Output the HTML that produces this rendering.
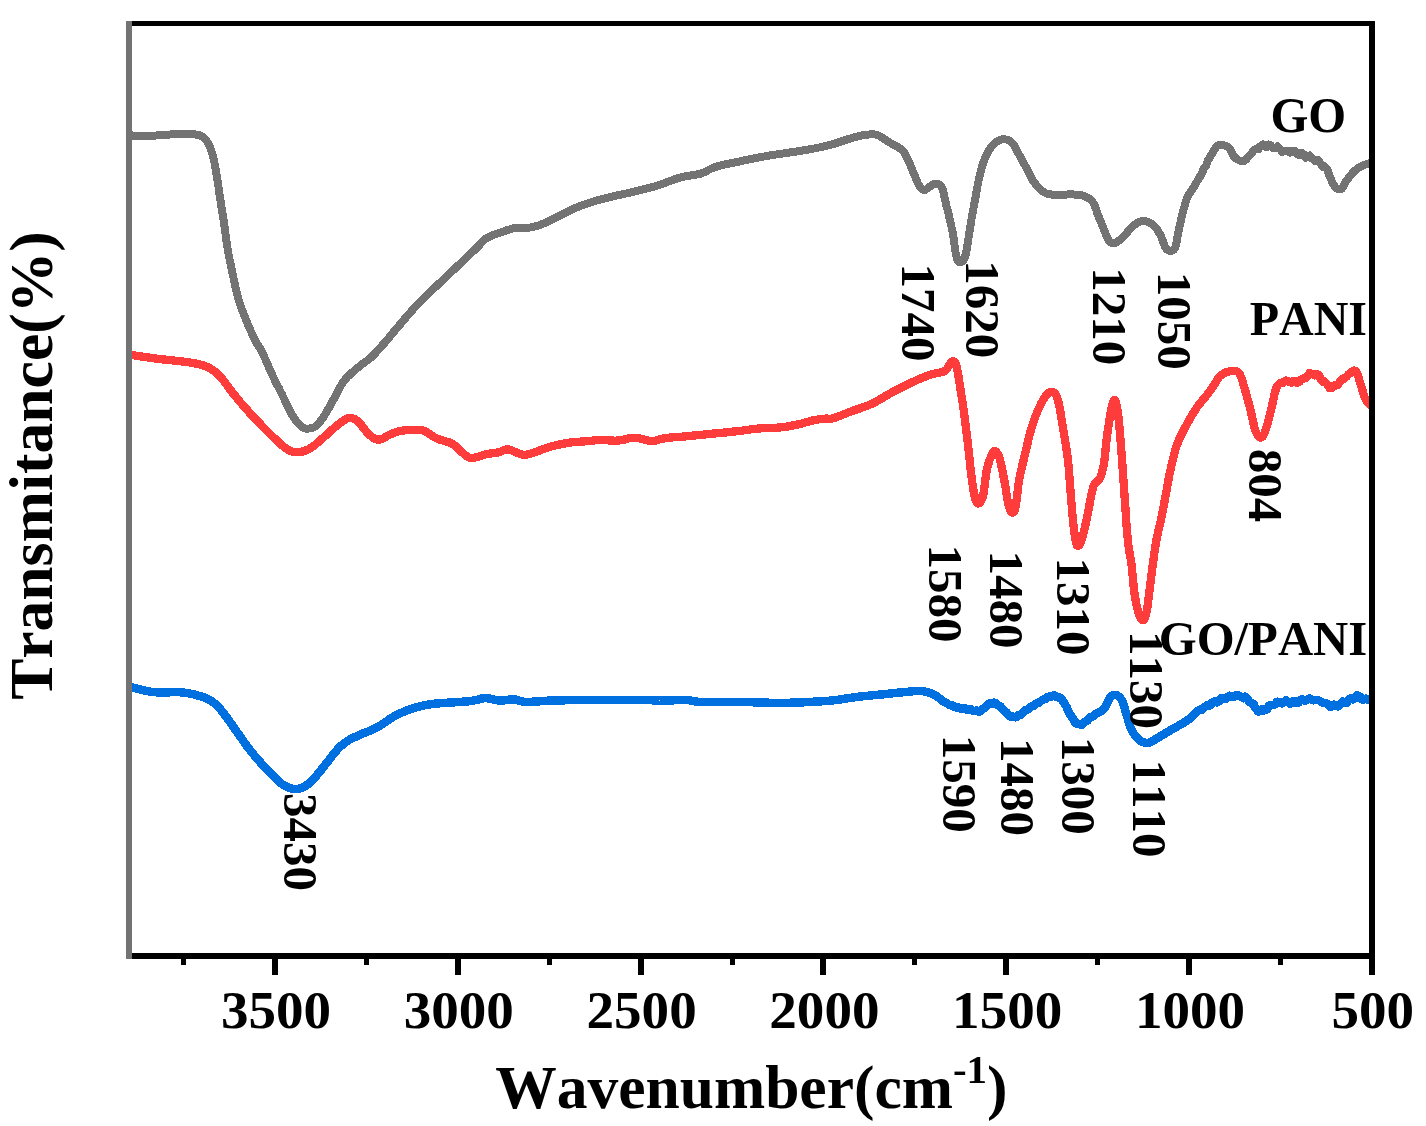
<!DOCTYPE html><html><head><meta charset="utf-8"><title>FTIR</title><style>html,body{margin:0;padding:0;background:#fff}svg{display:block}text{font-family:"Liberation Serif",serif;font-weight:bold;fill:#000;font-kerning:none}</style></head><body>
<svg width="1426" height="1126" viewBox="0 0 1426 1126">
<rect width="1426" height="1126" fill="#fff"/>
<g fill="none" stroke-width="8" stroke-linejoin="round" stroke-linecap="butt" shape-rendering="crispEdges">
<polyline id="blue" stroke-width="8.5" stroke="#0070E0" points="127.0,685.8 129.0,686.4 131.8,687.2 135.1,688.1 138.6,689.1 142.0,690.0 145.0,690.7 147.6,691.2 149.9,691.6 152.2,691.9 154.6,692.1 157.1,692.3 160.0,692.4 163.3,692.4 167.0,692.4 170.9,692.2 174.8,692.1 178.7,692.2 182.4,692.4 186.0,692.9 189.5,693.5 193.0,694.2 196.4,695.1 199.5,696.0 202.4,696.9 204.9,697.8 207.2,698.8 209.3,699.9 211.2,701.0 213.1,702.3 214.9,703.7 216.7,705.2 218.3,706.9 219.8,708.6 221.4,710.5 223.0,712.6 224.8,714.9 226.7,717.5 228.8,720.3 230.9,723.3 233.0,726.3 235.2,729.4 237.3,732.4 239.4,735.3 241.4,738.2 243.4,741.1 245.4,744.0 247.6,746.9 249.8,749.8 252.2,752.7 254.6,755.7 257.1,758.7 259.7,761.6 262.3,764.5 264.8,767.3 267.4,770.1 270.0,772.8 272.6,775.5 275.2,778.1 277.6,780.4 279.8,782.3 281.8,783.8 283.6,785.1 285.2,786.0 286.8,786.8 288.2,787.4 289.7,788.0 291.1,788.5 292.3,788.9 293.4,789.1 294.6,789.2 295.8,789.2 297.2,789.0 298.7,788.7 300.3,788.2 302.0,787.6 303.8,786.8 305.5,785.9 307.2,784.8 308.9,783.5 310.5,782.0 312.2,780.3 313.9,778.5 315.5,776.7 317.2,774.8 318.9,772.9 320.5,770.8 322.2,768.7 323.9,766.6 325.5,764.4 327.2,762.3 328.9,760.2 330.5,758.0 332.2,755.8 333.9,753.7 335.5,751.7 337.2,749.8 338.8,748.1 340.4,746.5 342.0,745.1 343.7,743.7 345.4,742.4 347.2,741.1 349.1,739.9 351.0,738.9 352.9,737.9 355.0,737.0 357.2,736.0 359.6,734.9 362.2,733.8 365.1,732.6 368.0,731.5 371.1,730.2 374.1,728.9 377.1,727.4 380.0,725.7 382.9,723.8 385.9,721.8 388.8,719.7 391.7,717.8 394.6,716.1 397.5,714.6 400.4,713.2 403.4,711.9 406.3,710.7 409.2,709.6 412.1,708.6 414.9,707.7 417.7,706.9 420.5,706.2 423.3,705.5 426.3,704.9 429.5,704.4 433.0,703.9 436.8,703.5 440.7,703.2 444.7,702.9 448.5,702.7 452.0,702.4 455.3,702.2 458.6,701.9 461.8,701.8 464.7,701.6 467.3,701.4 469.5,701.2 471.2,701.0 472.4,700.8 473.2,700.6 474.0,700.5 474.8,700.2 476.0,700.0 477.4,699.7 478.9,699.3 480.6,698.8 482.3,698.4 484.1,698.2 486.0,698.1 488.1,698.3 490.3,698.7 492.6,699.3 495.0,699.9 497.4,700.3 499.7,700.6 502.0,700.6 504.3,700.3 506.6,700.0 508.9,699.7 511.2,699.4 513.4,699.4 515.4,699.6 517.2,700.1 518.9,700.7 520.9,701.2 523.1,701.7 525.9,701.9 529.2,701.9 532.8,701.7 536.8,701.5 541.2,701.1 545.9,700.8 550.9,700.6 556.3,700.4 562.0,700.3 568.0,700.2 574.4,700.1 581.2,700.0 588.3,699.9 596.2,699.9 605.0,699.8 614.1,699.8 623.0,699.8 631.3,699.9 638.3,699.9 643.9,700.0 648.5,700.1 652.5,700.3 656.0,700.4 659.5,700.6 663.2,700.6 667.2,700.5 671.2,700.4 675.1,700.2 678.8,700.0 682.4,699.9 685.7,699.9 688.4,700.1 690.4,700.4 692.3,700.9 694.3,701.3 697.0,701.7 700.7,701.9 705.6,702.0 711.5,702.0 718.0,702.0 724.8,701.9 731.6,701.9 738.1,701.9 744.5,702.0 751.0,702.2 757.6,702.4 764.0,702.6 770.0,702.8 775.5,702.9 780.3,702.9 784.5,702.9 788.4,702.8 792.1,702.7 796.1,702.6 800.5,702.4 805.4,702.2 810.8,701.9 816.2,701.6 821.7,701.3 827.1,700.9 832.0,700.5 836.5,700.0 840.8,699.4 844.9,698.7 848.9,698.1 852.9,697.5 857.0,696.9 861.2,696.4 865.3,696.0 869.5,695.6 873.6,695.2 877.7,694.8 881.9,694.4 886.2,694.0 890.6,693.5 895.0,693.0 899.3,692.6 903.3,692.2 906.9,691.9 910.0,691.6 912.7,691.3 915.2,691.1 917.5,691.0 919.7,690.9 921.9,691.1 924.1,691.4 926.2,691.8 928.3,692.4 930.3,693.1 932.3,693.9 934.3,694.9 936.4,696.1 938.5,697.6 940.5,699.2 942.6,700.9 944.7,702.3 946.8,703.0 948.9,704.8 951.1,705.3 953.2,705.7 955.3,707.3 957.4,707.3 959.3,707.8 961.1,709.0 962.8,708.6 964.5,708.1 966.1,709.2 967.7,709.8 969.3,709.0 971.0,709.2 972.7,710.8 974.4,711.2 976.1,710.5 977.7,711.0 979.3,711.8 980.9,710.6 982.4,708.7 983.9,708.3 985.3,707.5 986.7,705.7 988.0,704.7 989.2,703.6 990.2,704.1 991.2,703.6 992.2,703.6 993.2,702.7 994.3,702.7 995.5,703.1 996.7,704.7 997.9,705.1 999.2,706.0 1000.4,706.2 1001.7,707.9 1002.9,709.5 1004.2,710.7 1005.4,711.8 1006.7,712.6 1007.9,714.7 1009.2,715.6 1010.4,716.5 1011.6,716.1 1012.8,716.5 1014.0,717.0 1015.3,717.3 1016.7,717.0 1018.2,715.3 1019.8,714.8 1021.4,714.6 1023.1,712.6 1024.9,710.5 1026.7,710.0 1028.6,708.7 1030.7,706.8 1032.8,706.3 1034.9,704.6 1037.1,702.9 1039.2,702.6 1041.3,700.8 1043.5,699.4 1045.6,699.0 1047.7,697.1 1049.8,696.5 1051.7,696.5 1053.5,695.5 1055.3,695.7 1057.0,697.2 1058.7,697.5 1060.2,697.5 1061.7,699.3 1063.1,701.6 1064.4,703.2 1065.6,705.4 1066.8,707.2 1068.0,710.5 1069.1,712.6 1070.2,714.9 1071.3,715.8 1072.3,717.8 1073.3,719.1 1074.4,721.5 1075.4,722.6 1076.4,723.6 1077.4,723.6 1078.4,723.8 1079.4,724.3 1080.5,724.6 1081.6,724.9 1082.8,723.8 1084.0,722.5 1085.3,721.6 1086.6,720.8 1087.8,720.3 1089.1,718.3 1090.3,717.4 1091.6,716.6 1092.8,716.4 1094.1,715.6 1095.3,714.2 1096.6,713.5 1097.9,712.8 1099.1,712.2 1100.4,711.5 1101.7,710.7 1102.9,709.8 1104.1,708.6 1105.2,707.0 1106.3,705.0 1107.4,702.8 1108.4,700.7 1109.4,698.8 1110.3,697.4 1111.2,696.4 1112.0,695.6 1112.8,695.1 1113.6,694.9 1114.4,694.8 1115.3,694.9 1116.3,695.2 1117.4,695.6 1118.4,696.3 1119.5,697.2 1120.6,698.4 1121.6,699.9 1122.5,701.8 1123.4,704.2 1124.2,706.8 1125.0,709.5 1125.8,712.3 1126.6,714.9 1127.4,717.4 1128.2,720.1 1128.9,722.7 1129.8,725.2 1130.6,727.6 1131.6,729.8 1132.7,731.8 1133.8,733.8 1135.1,735.5 1136.3,737.2 1137.7,738.6 1139.0,739.8 1140.4,740.8 1141.8,741.6 1143.3,742.2 1144.8,742.6 1146.3,742.8 1147.8,742.8 1149.2,742.6 1150.6,742.1 1151.9,741.4 1153.3,740.5 1154.8,739.6 1156.5,738.6 1158.3,737.6 1160.1,736.5 1162.1,735.3 1164.2,734.0 1166.5,732.6 1169.0,731.1 1171.9,729.4 1175.1,727.6 1178.5,725.7 1182.0,723.7 1185.2,721.7 1188.0,719.9 1190.3,718.1 1192.3,716.4 1194.2,714.6 1195.9,713.0 1197.7,710.8 1199.8,709.6 1202.1,709.8 1204.7,707.0 1207.3,705.3 1209.9,705.4 1212.4,702.5 1214.8,701.1 1217.0,702.5 1219.2,701.3 1221.2,698.0 1223.2,698.1 1225.3,699.2 1227.3,697.4 1229.4,695.7 1231.5,696.5 1233.7,697.0 1235.7,695.5 1237.8,695.1 1239.7,695.8 1241.5,697.0 1243.3,698.2 1245.1,696.7 1246.7,698.3 1248.3,699.9 1249.7,702.4 1251.0,702.5 1252.1,704.0 1253.1,703.9 1254.0,704.8 1255.0,707.2 1256.0,708.4 1257.0,709.7 1257.9,711.6 1258.9,711.5 1259.9,710.6 1260.9,710.9 1262.2,709.5 1263.6,710.5 1265.3,709.9 1267.0,709.6 1268.7,705.9 1270.5,705.0 1272.2,705.0 1273.8,705.0 1275.4,704.2 1277.0,701.7 1278.7,702.0 1280.4,701.8 1282.2,703.3 1284.1,701.7 1286.2,700.2 1288.3,702.5 1290.4,703.8 1292.6,701.5 1294.7,701.0 1296.8,703.1 1298.8,702.3 1300.9,699.5 1303.0,699.6 1305.0,700.7 1307.1,699.5 1309.2,698.4 1311.3,699.3 1313.3,700.3 1315.4,700.1 1317.5,700.0 1319.6,700.7 1321.7,702.3 1323.8,703.2 1325.8,703.1 1327.9,704.3 1330.0,706.6 1332.1,706.5 1334.2,704.6 1336.3,705.3 1338.3,706.3 1340.4,703.8 1342.5,701.6 1344.6,702.9 1346.7,702.8 1349.0,699.3 1351.2,698.0 1353.3,699.4 1355.3,698.1 1357.1,695.5 1358.6,696.3 1360.0,696.6 1361.2,698.8 1362.3,699.5 1363.4,698.9 1364.6,699.3 1365.9,698.7 1367.3,699.6 1368.8,699.7 1370.1,699.7 1371.2,699.8 1372.0,699.8"/>
<polyline id="red" stroke-width="8.3" stroke="#FF3C3C" points="127.0,354.3 130.3,354.8 134.8,355.5 140.2,356.3 146.0,357.1 151.9,358.0 157.4,358.7 162.9,359.4 168.7,360.0 174.5,360.6 180.2,361.2 185.4,361.8 190.0,362.5 193.8,363.2 197.1,363.8 200.0,364.4 202.5,365.1 205.0,366.0 207.4,367.0 209.8,368.2 211.9,369.5 214.0,370.9 215.9,372.4 217.9,374.2 219.9,376.2 222.0,378.5 224.0,381.1 226.1,383.9 228.2,386.8 230.2,389.7 232.3,392.4 234.3,395.0 236.4,397.4 238.4,399.9 240.4,402.4 242.6,404.8 244.8,407.4 247.2,410.0 249.6,412.8 252.1,415.5 254.7,418.2 257.3,421.0 259.8,423.6 262.3,426.2 264.9,428.8 267.5,431.4 270.0,434.0 272.4,436.4 274.8,438.6 277.1,440.7 279.2,442.8 281.4,444.7 283.4,446.5 285.4,448.0 287.3,449.3 289.1,450.3 290.7,451.1 292.2,451.7 293.8,452.1 295.4,452.3 297.2,452.3 299.1,452.1 301.2,451.8 303.3,451.3 305.4,450.5 307.6,449.7 309.7,448.6 311.8,447.3 313.9,445.8 315.9,444.1 318.0,442.3 320.1,440.4 322.2,438.6 324.3,436.8 326.5,434.8 328.6,432.8 330.7,430.9 332.8,429.1 334.7,427.4 336.6,425.9 338.4,424.4 340.1,423.1 341.7,421.9 343.3,420.8 344.7,419.9 345.9,419.2 347.0,418.6 348.0,418.2 348.9,417.9 349.8,417.8 350.9,417.9 352.1,418.1 353.3,418.6 354.5,419.1 355.8,419.9 357.1,420.8 358.4,421.9 359.8,423.3 361.3,425.0 362.7,427.0 364.2,428.9 365.7,430.7 367.1,432.3 368.4,433.7 369.7,434.9 371.0,436.1 372.2,437.1 373.4,437.9 374.6,438.6 375.7,439.1 376.7,439.4 377.7,439.6 378.7,439.7 379.7,439.5 380.9,439.3 382.2,438.8 383.6,438.2 385.0,437.3 386.5,436.4 388.0,435.6 389.6,434.8 391.1,434.1 392.7,433.4 394.2,432.8 395.8,432.1 397.6,431.6 399.6,431.1 401.9,430.7 404.4,430.4 407.1,430.1 409.8,430.0 412.3,429.8 414.6,429.8 416.5,429.8 418.2,429.8 419.7,429.9 421.2,430.1 422.8,430.5 424.5,431.1 426.4,432.0 428.4,433.2 430.4,434.6 432.6,436.1 434.7,437.4 437.0,438.6 439.4,439.5 442.0,440.3 444.7,441.0 447.3,441.8 449.8,442.6 452.0,443.6 454.0,444.9 455.8,446.3 457.5,447.9 459.0,449.5 460.5,451.0 462.0,452.3 463.4,453.5 464.7,454.6 466.0,455.6 467.2,456.5 468.3,457.3 469.5,457.8 470.6,458.1 471.6,458.2 472.6,458.1 473.6,457.9 474.7,457.6 476.0,457.3 477.4,456.9 479.0,456.4 480.6,455.9 482.4,455.3 484.1,454.8 486.0,454.3 488.0,453.9 490.1,453.6 492.3,453.3 494.5,453.0 496.6,452.7 498.5,452.3 500.2,451.8 501.7,451.2 503.1,450.5 504.4,449.9 505.8,449.5 507.2,449.3 508.7,449.5 510.2,449.9 511.7,450.5 513.2,451.1 514.6,451.8 516.0,452.3 517.3,452.8 518.5,453.3 519.6,453.9 520.8,454.3 522.0,454.6 523.4,454.8 524.9,454.8 526.4,454.6 527.9,454.3 529.6,453.9 531.4,453.4 533.4,452.8 535.6,452.1 537.8,451.2 540.3,450.2 542.8,449.2 545.6,448.2 548.4,447.3 551.4,446.5 554.7,445.6 558.1,444.8 561.6,444.1 565.0,443.4 568.4,442.8 571.8,442.4 575.3,442.0 578.8,441.8 582.2,441.5 585.4,441.3 588.3,441.1 590.8,440.8 593.1,440.6 595.2,440.3 597.1,440.1 598.9,439.9 600.8,439.8 602.6,439.8 604.3,440.0 606.0,440.1 607.6,440.3 609.2,440.5 610.8,440.6 612.5,440.6 614.1,440.7 615.7,440.7 617.4,440.6 619.1,440.5 620.8,440.3 622.6,440.0 624.5,439.5 626.5,439.0 628.4,438.5 630.3,438.1 632.0,437.8 633.6,437.7 635.0,437.8 636.4,437.9 637.8,438.1 639.2,438.3 640.8,438.6 642.5,439.0 644.3,439.5 646.1,440.1 648.0,440.6 650.0,441.0 652.0,441.1 654.0,440.9 656.1,440.5 658.1,439.9 660.4,439.2 662.9,438.6 665.7,438.1 668.9,437.7 672.5,437.4 676.2,437.1 680.2,436.8 684.2,436.5 688.2,436.1 692.2,435.7 696.3,435.3 700.5,434.9 704.7,434.5 708.9,434.0 713.1,433.6 717.3,433.2 721.6,432.8 725.9,432.4 730.1,431.9 734.2,431.5 738.1,431.1 741.7,430.7 745.0,430.2 748.3,429.8 751.4,429.3 754.7,428.9 758.1,428.6 761.8,428.3 765.6,428.2 769.5,428.0 773.3,427.9 777.0,427.7 780.5,427.4 783.7,427.0 786.8,426.6 789.7,426.1 792.5,425.5 795.3,425.0 798.0,424.4 800.7,423.8 803.3,423.1 805.8,422.3 808.3,421.6 810.7,421.0 813.0,420.4 815.3,420.0 817.6,419.6 819.8,419.2 821.9,419.0 823.8,418.8 825.5,418.6 826.8,418.6 827.6,418.7 828.3,419.0 829.1,419.1 830.2,419.0 832.0,418.6 834.6,417.8 837.7,416.7 841.2,415.3 844.8,413.9 848.5,412.4 852.0,411.1 855.3,409.9 858.7,408.8 862.0,407.6 865.3,406.5 868.7,405.2 872.0,403.7 875.3,402.0 878.6,400.2 882.0,398.2 885.3,396.2 888.6,394.3 891.9,392.4 895.3,390.6 898.7,388.9 902.0,387.2 905.4,385.5 908.7,383.9 911.9,382.4 915.0,381.0 918.0,379.6 921.0,378.3 923.9,377.1 926.7,376.0 929.4,375.0 932.1,374.2 934.9,373.6 937.6,373.0 940.2,372.5 942.4,371.9 944.3,371.2 945.7,370.3 946.7,369.2 947.5,368.1 948.1,367.0 948.7,365.9 949.3,365.0 950.0,364.1 950.7,363.2 951.3,362.3 951.9,361.6 952.5,361.2 953.1,361.2 953.7,361.5 954.3,362.0 955.0,362.7 955.6,363.8 956.2,365.4 956.8,367.5 957.4,370.3 958.1,373.7 958.7,377.6 959.3,381.7 960.0,385.9 960.6,390.0 961.2,394.0 961.8,397.9 962.5,402.0 963.1,406.1 963.7,410.4 964.3,414.9 964.9,419.6 965.5,424.5 966.2,429.5 966.8,434.6 967.4,439.8 968.0,444.8 968.6,449.9 969.1,455.2 969.7,460.4 970.2,465.5 970.8,470.4 971.3,474.8 971.8,478.8 972.3,482.6 972.8,486.1 973.3,489.3 973.8,492.2 974.3,494.8 974.9,497.1 975.4,499.1 976.0,500.9 976.6,502.2 977.3,503.1 978.0,503.5 978.8,503.4 979.6,502.9 980.5,501.9 981.4,500.5 982.2,498.5 983.0,496.0 983.7,492.6 984.3,488.2 984.9,483.4 985.5,478.4 986.1,473.7 986.8,469.8 987.6,466.5 988.5,463.6 989.3,460.9 990.2,458.5 991.1,456.5 991.8,454.8 992.4,453.4 992.9,452.4 993.3,451.6 993.8,451.2 994.2,451.0 994.8,451.1 995.4,451.4 996.1,451.8 996.9,452.6 997.6,453.7 998.4,455.2 999.2,457.3 1000.0,460.1 1000.9,463.6 1001.7,467.5 1002.6,471.7 1003.4,475.9 1004.2,479.8 1004.9,483.7 1005.6,487.8 1006.2,491.8 1006.8,495.7 1007.4,499.3 1008.0,502.3 1008.6,504.9 1009.2,507.1 1009.9,509.0 1010.5,510.5 1011.1,511.6 1011.7,512.2 1012.3,512.5 1013.0,512.5 1013.6,512.0 1014.2,511.1 1014.9,509.5 1015.5,507.2 1016.1,503.9 1016.6,499.7 1017.2,494.9 1017.8,489.8 1018.4,484.6 1019.2,479.8 1020.1,475.2 1021.1,470.5 1022.2,465.9 1023.3,461.3 1024.4,456.7 1025.5,452.3 1026.5,447.9 1027.5,443.6 1028.5,439.4 1029.5,435.2 1030.6,431.2 1031.7,427.4 1032.9,423.7 1034.1,420.1 1035.4,416.6 1036.7,413.3 1037.9,410.2 1039.2,407.4 1040.5,404.8 1041.7,402.3 1043.0,400.1 1044.3,398.1 1045.5,396.3 1046.7,394.9 1047.8,393.7 1048.9,392.8 1050.0,392.1 1051.0,391.7 1052.0,391.7 1052.9,391.9 1053.8,392.4 1054.7,393.0 1055.5,394.0 1056.3,395.4 1057.1,397.3 1057.9,399.9 1058.7,403.3 1059.6,407.4 1060.4,412.1 1061.2,417.1 1062.1,422.3 1062.9,427.4 1063.8,432.5 1064.7,437.9 1065.6,443.4 1066.4,449.0 1067.2,454.5 1067.9,459.8 1068.5,464.9 1068.9,470.0 1069.3,475.0 1069.7,479.9 1070.0,484.8 1070.4,489.8 1070.8,494.9 1071.2,500.1 1071.7,505.4 1072.1,510.5 1072.5,515.3 1072.9,519.7 1073.3,523.8 1073.7,527.6 1074.2,531.2 1074.6,534.4 1075.0,537.3 1075.4,539.7 1075.8,541.7 1076.2,543.2 1076.6,544.4 1077.0,545.3 1077.4,545.7 1077.9,545.9 1078.4,545.7 1079.0,545.3 1079.6,544.4 1080.2,543.2 1080.9,541.7 1081.6,539.7 1082.4,537.2 1083.2,534.1 1084.1,530.6 1085.0,526.9 1085.8,523.2 1086.6,519.7 1087.3,516.3 1088.0,512.9 1088.6,509.4 1089.2,506.1 1089.8,502.8 1090.4,499.8 1091.0,496.9 1091.5,494.2 1092.1,491.5 1092.7,489.1 1093.3,486.8 1094.1,484.8 1095.0,483.2 1096.1,482.0 1097.2,481.1 1098.3,480.1 1099.4,478.9 1100.3,477.3 1101.1,475.3 1101.8,473.1 1102.4,470.7 1103.0,468.1 1103.6,465.3 1104.1,462.3 1104.6,459.0 1105.0,455.4 1105.4,451.7 1105.7,447.8 1106.1,443.8 1106.6,439.8 1107.1,435.7 1107.7,431.3 1108.4,426.9 1109.0,422.6 1109.7,418.5 1110.3,414.9 1110.9,411.5 1111.6,408.1 1112.2,405.1 1112.8,402.5 1113.5,400.7 1114.1,399.9 1114.7,400.1 1115.4,401.2 1116.0,403.0 1116.6,405.6 1117.2,408.7 1117.8,412.4 1118.4,416.8 1118.9,422.1 1119.5,428.0 1120.0,434.3 1120.6,440.8 1121.1,447.3 1121.6,453.9 1122.1,460.6 1122.6,467.6 1123.1,474.8 1123.6,482.2 1124.1,489.8 1124.7,498.0 1125.3,506.8 1125.9,515.8 1126.5,524.6 1127.2,532.7 1127.8,539.7 1128.4,545.3 1129.1,549.9 1129.7,553.8 1130.4,557.3 1131.0,560.8 1131.5,564.7 1132.0,569.0 1132.4,573.3 1132.8,577.7 1133.2,581.9 1133.6,585.9 1134.0,589.6 1134.4,592.9 1134.9,595.9 1135.4,598.7 1135.8,601.3 1136.3,603.7 1136.8,606.0 1137.3,608.2 1137.8,610.2 1138.3,612.0 1138.8,613.7 1139.3,615.2 1139.8,616.5 1140.3,617.6 1140.7,618.5 1141.2,619.3 1141.7,619.8 1142.1,620.2 1142.6,620.3 1143.1,620.2 1143.6,619.8 1144.0,619.3 1144.5,618.5 1145.0,617.6 1145.4,616.5 1145.8,615.2 1146.2,613.7 1146.6,612.0 1146.9,610.2 1147.3,608.2 1147.6,606.0 1147.9,603.7 1148.2,601.3 1148.5,598.7 1148.9,595.9 1149.2,592.9 1149.6,589.6 1150.1,585.9 1150.6,581.9 1151.1,577.7 1151.7,573.3 1152.2,569.0 1152.8,564.7 1153.4,560.5 1153.9,556.3 1154.5,552.1 1155.2,547.9 1155.8,543.7 1156.5,539.7 1157.3,535.8 1158.1,531.9 1159.0,528.1 1159.9,524.4 1160.7,520.8 1161.5,517.2 1162.2,513.8 1162.8,510.7 1163.4,507.6 1164.0,504.4 1164.6,501.0 1165.3,497.3 1166.1,493.1 1166.9,488.6 1167.7,483.9 1168.6,479.1 1169.5,474.3 1170.5,469.8 1171.5,465.4 1172.5,461.1 1173.5,456.8 1174.6,452.7 1175.7,448.6 1177.0,444.8 1178.4,441.2 1179.9,437.7 1181.5,434.4 1183.1,431.2 1184.8,428.0 1186.5,424.9 1188.2,421.8 1189.9,418.7 1191.7,415.6 1193.5,412.7 1195.3,409.9 1197.0,407.3 1198.7,404.9 1200.5,402.7 1202.2,400.6 1203.9,398.6 1205.5,396.7 1207.0,394.8 1208.4,392.9 1209.8,391.1 1211.1,389.4 1212.3,387.7 1213.4,386.1 1214.5,384.5 1215.4,383.0 1216.2,381.5 1216.9,380.1 1217.7,378.8 1218.5,377.6 1219.5,376.5 1220.7,375.5 1222.0,374.5 1223.4,373.6 1224.9,372.8 1226.4,372.2 1228.0,371.8 1229.7,371.4 1231.5,371.0 1233.4,370.8 1235.2,370.8 1237.0,371.4 1238.5,372.5 1239.8,374.3 1241.0,376.8 1242.0,379.7 1243.0,382.9 1244.0,386.4 1245.0,389.8 1246.1,393.5 1247.2,397.5 1248.3,401.6 1249.4,405.8 1250.4,409.8 1251.3,413.5 1252.1,416.9 1252.8,420.2 1253.5,423.3 1254.1,426.2 1254.8,428.8 1255.6,431.0 1256.5,432.9 1257.5,434.7 1258.5,436.1 1259.6,437.2 1260.6,437.6 1261.6,437.5 1262.6,436.6 1263.5,435.0 1264.5,432.9 1265.4,430.4 1266.3,427.6 1267.2,424.9 1268.1,422.0 1268.9,418.7 1269.7,415.3 1270.6,411.7 1271.4,408.2 1272.2,404.9 1273.0,401.5 1273.7,398.1 1274.4,394.6 1275.2,391.4 1276.1,388.5 1277.2,386.2 1278.6,384.5 1280.3,383.2 1282.0,383.2 1283.9,381.9 1285.6,380.5 1287.2,380.8 1288.6,381.4 1289.9,382.2 1291.1,382.6 1292.3,381.3 1293.5,381.9 1294.7,381.2 1295.9,382.3 1297.2,382.9 1298.4,382.1 1299.6,381.9 1300.9,379.4 1302.1,379.2 1303.3,378.5 1304.6,378.4 1305.8,378.3 1307.1,376.1 1308.3,375.2 1309.6,373.1 1310.8,373.5 1312.1,374.0 1313.3,374.4 1314.6,375.3 1315.8,374.0 1317.1,374.6 1318.3,374.5 1319.6,376.7 1320.8,379.2 1322.1,380.4 1323.3,382.2 1324.6,381.5 1325.8,382.9 1327.1,383.9 1328.3,385.8 1329.5,388.0 1330.8,387.6 1332.1,387.8 1333.5,385.6 1334.9,385.9 1336.4,384.9 1337.8,385.2 1339.3,382.5 1340.8,381.1 1342.3,378.6 1343.8,378.9 1345.4,377.4 1346.9,376.4 1348.3,374.5 1349.6,373.7 1350.8,372.8 1351.9,371.9 1352.9,371.1 1353.9,370.6 1354.9,370.6 1355.8,371.2 1356.7,372.5 1357.6,374.5 1358.4,377.0 1359.2,379.6 1360.0,382.4 1360.8,384.9 1361.6,387.4 1362.4,390.1 1363.2,392.8 1364.0,395.4 1364.9,397.8 1365.8,399.9 1366.8,401.6 1368.0,403.1 1369.2,404.3 1370.3,405.4 1371.3,406.2 1372.0,406.9"/>
<polyline id="go" stroke="#737373" points="127.0,135.0 128.9,135.2 131.4,135.4 134.4,135.7 137.8,136.0 141.4,136.2 145.0,136.2 148.8,136.1 153.0,135.8 157.4,135.4 161.8,135.1 166.0,134.7 170.0,134.5 173.7,134.4 177.4,134.2 180.9,134.2 184.3,134.1 187.3,134.1 190.0,134.2 192.3,134.3 194.2,134.4 195.9,134.5 197.3,134.8 198.7,135.1 200.0,135.5 201.2,136.0 202.3,136.6 203.3,137.2 204.2,138.0 205.1,138.9 206.0,140.0 206.9,141.3 207.8,142.8 208.7,144.5 209.5,146.3 210.3,148.1 211.0,150.0 211.7,151.9 212.3,153.8 212.8,155.7 213.4,157.8 213.9,160.0 214.4,162.4 214.9,165.0 215.4,167.8 215.9,170.7 216.4,173.8 216.9,176.9 217.4,180.0 217.9,183.1 218.4,186.3 218.8,189.6 219.3,192.9 219.8,196.4 220.4,200.0 221.0,203.9 221.6,207.9 222.3,212.1 223.0,216.3 223.7,220.6 224.3,224.8 224.9,229.0 225.4,233.1 226.0,237.3 226.5,241.5 227.1,245.6 227.8,249.8 228.5,254.0 229.3,258.1 230.2,262.2 231.0,266.4 231.9,270.5 232.8,274.7 233.7,278.9 234.6,283.2 235.6,287.5 236.5,291.7 237.5,295.8 238.6,299.7 239.7,303.3 240.9,306.7 242.1,310.0 243.4,313.2 244.7,316.4 246.0,319.7 247.4,323.1 248.9,326.6 250.4,330.1 251.9,333.5 253.4,336.7 254.8,339.6 256.1,342.0 257.3,344.1 258.5,345.9 259.7,347.7 260.9,349.9 262.3,352.5 263.8,355.7 265.4,359.4 267.1,363.3 268.9,367.3 270.6,371.3 272.3,375.0 274.0,378.5 275.6,381.9 277.3,385.2 279.0,388.4 280.6,391.7 282.3,395.0 284.0,398.4 285.6,402.0 287.3,405.6 289.0,409.0 290.6,412.2 292.2,415.0 293.8,417.5 295.3,419.6 296.8,421.6 298.3,423.3 299.7,424.8 301.0,426.0 302.2,427.0 303.2,427.7 304.1,428.1 305.0,428.4 306.0,428.6 307.2,428.6 308.5,428.6 309.9,428.4 311.4,428.2 313.0,427.7 314.5,427.0 316.0,426.0 317.4,424.7 318.9,423.2 320.3,421.4 321.7,419.5 323.2,417.3 324.7,415.0 326.3,412.4 327.9,409.6 329.6,406.6 331.3,403.5 333.0,400.4 334.7,397.4 336.3,394.4 337.9,391.5 339.4,388.5 341.0,385.5 342.7,382.7 344.7,380.0 346.9,377.4 349.4,375.0 352.0,372.6 354.6,370.4 357.2,368.2 359.6,366.2 361.8,364.4 363.8,362.9 365.8,361.5 367.8,360.1 369.8,358.5 372.0,356.5 374.4,354.1 377.0,351.3 379.6,348.4 382.3,345.4 384.8,342.6 387.0,340.0 388.8,337.9 390.2,336.2 391.5,334.6 392.9,332.9 394.7,330.7 397.0,328.0 400.0,324.5 403.5,320.3 407.4,315.8 411.4,311.2 415.6,306.5 419.6,302.2 423.5,298.2 427.5,294.4 431.5,290.6 435.6,286.8 439.9,282.8 444.5,278.5 449.6,273.6 455.3,268.2 461.2,262.6 466.8,257.3 471.9,252.4 476.0,248.5 478.9,245.6 480.7,243.5 482.0,242.0 483.1,240.8 484.3,239.7 486.0,238.5 488.2,237.2 490.6,236.1 493.2,235.1 495.8,234.1 498.4,233.2 501.0,232.3 503.5,231.4 506.1,230.5 508.7,229.7 511.2,228.9 513.7,228.3 516.0,227.8 518.2,227.6 520.2,227.6 522.2,227.8 524.2,227.9 526.2,228.0 528.4,227.8 530.7,227.4 533.0,226.9 535.4,226.3 537.9,225.6 540.6,224.7 543.4,223.6 546.4,222.3 549.7,220.7 553.1,218.9 556.6,217.1 560.0,215.3 563.4,213.6 566.7,212.0 569.9,210.5 573.2,209.0 576.5,207.5 579.8,206.1 583.3,204.8 586.9,203.6 590.5,202.4 594.2,201.3 598.0,200.2 601.9,199.1 605.8,198.1 609.8,197.1 614.0,196.1 618.1,195.2 622.4,194.3 626.6,193.4 630.8,192.4 635.0,191.4 639.1,190.4 643.2,189.4 647.4,188.4 651.5,187.3 655.7,186.1 659.9,184.7 664.2,183.2 668.5,181.6 672.7,180.0 676.8,178.6 680.7,177.4 684.4,176.5 687.9,175.9 691.3,175.4 694.6,174.9 697.7,174.3 700.7,173.6 703.4,172.6 705.7,171.5 707.8,170.4 710.1,169.2 712.6,168.0 715.6,166.9 719.2,165.9 723.2,164.9 727.5,163.9 731.9,163.0 736.3,162.1 740.6,161.2 744.8,160.3 748.9,159.4 753.1,158.6 757.3,157.8 761.4,157.0 765.6,156.2 769.8,155.5 774.0,154.8 778.2,154.2 782.4,153.6 786.5,153.0 790.5,152.4 794.4,151.8 798.3,151.2 802.1,150.6 805.8,150.0 809.5,149.4 813.0,148.7 816.4,148.0 819.6,147.4 822.8,146.7 825.9,146.0 829.0,145.2 832.0,144.4 835.0,143.5 838.0,142.5 841.0,141.5 843.9,140.5 846.7,139.6 849.5,138.7 852.2,137.9 854.8,137.2 857.3,136.5 859.8,135.9 862.2,135.4 864.5,135.0 866.7,134.7 868.9,134.5 870.9,134.3 872.9,134.3 875.0,134.5 877.0,135.0 879.1,135.8 881.1,136.9 883.2,138.2 885.3,139.6 887.3,141.1 889.4,142.4 891.6,143.6 893.8,144.8 896.0,146.0 898.2,147.3 900.2,148.6 901.9,150.0 903.3,151.5 904.4,153.0 905.4,154.5 906.3,156.2 907.1,158.0 908.1,160.0 909.2,162.2 910.2,164.7 911.3,167.4 912.4,170.0 913.4,172.6 914.4,174.9 915.3,177.1 916.2,179.2 917.0,181.2 917.8,183.1 918.6,184.7 919.4,186.1 920.2,187.2 921.0,188.2 921.8,188.9 922.6,189.5 923.5,189.8 924.4,189.9 925.4,189.7 926.4,189.1 927.5,188.4 928.6,187.6 929.6,186.7 930.6,186.1 931.5,185.5 932.3,184.9 933.1,184.4 933.9,183.9 934.7,183.6 935.6,183.6 936.6,183.7 937.7,184.0 938.8,184.4 939.9,185.1 940.9,186.1 941.8,187.4 942.6,189.2 943.2,191.5 943.9,194.2 944.4,196.9 945.0,199.7 945.6,202.3 946.2,204.8 946.8,207.2 947.5,209.6 948.1,212.1 948.7,214.7 949.3,217.3 949.9,220.1 950.6,222.9 951.3,225.9 951.9,228.9 952.5,231.9 953.1,234.8 953.6,237.8 954.0,241.0 954.4,244.1 954.8,247.1 955.2,249.9 955.6,252.3 956.0,254.4 956.4,256.1 956.8,257.7 957.2,259.0 957.6,260.1 958.1,261.0 958.6,261.7 959.2,262.1 959.9,262.4 960.5,262.4 961.2,262.2 961.8,261.8 962.4,261.2 963.1,260.5 963.7,259.5 964.4,258.3 965.0,256.7 965.6,254.8 966.2,252.3 966.7,249.4 967.2,246.1 967.8,242.7 968.3,239.3 968.8,236.0 969.3,232.9 969.8,229.8 970.3,226.7 970.8,223.6 971.3,220.5 971.8,217.3 972.4,214.1 973.0,210.8 973.6,207.4 974.2,204.1 974.9,200.7 975.5,197.4 976.1,194.0 976.7,190.6 977.3,187.2 977.9,183.9 978.6,180.6 979.3,177.4 980.0,174.3 980.8,171.2 981.6,168.3 982.4,165.4 983.3,162.6 984.3,159.9 985.4,157.3 986.5,154.8 987.7,152.4 989.0,150.1 990.4,148.0 991.8,146.2 993.3,144.6 994.9,143.1 996.6,141.8 998.3,140.7 1000.0,139.9 1001.7,139.4 1003.4,139.2 1005.1,139.3 1006.9,139.7 1008.5,140.3 1010.2,141.2 1011.7,142.4 1013.1,143.9 1014.4,145.8 1015.6,148.0 1016.8,150.3 1018.0,152.6 1019.2,154.9 1020.5,157.1 1021.7,159.4 1023.0,161.7 1024.2,164.0 1025.5,166.3 1026.7,168.6 1027.9,170.9 1029.1,173.3 1030.3,175.7 1031.5,178.1 1032.8,180.3 1034.2,182.4 1035.7,184.4 1037.3,186.3 1038.9,188.1 1040.6,189.8 1042.4,191.2 1044.2,192.4 1046.1,193.3 1048.1,193.9 1050.1,194.3 1052.3,194.6 1054.4,194.7 1056.7,194.9 1059.1,195.0 1061.6,194.9 1064.1,194.7 1066.7,194.5 1069.2,194.4 1071.6,194.4 1073.9,194.5 1076.1,194.6 1078.2,194.8 1080.3,195.1 1082.3,195.5 1084.1,196.1 1085.8,196.8 1087.4,197.6 1089.0,198.5 1090.4,199.6 1091.7,200.8 1092.9,202.3 1093.9,204.0 1094.8,205.9 1095.6,208.0 1096.3,210.2 1097.0,212.5 1097.9,214.8 1098.9,217.2 1099.9,219.8 1101.0,222.4 1102.1,225.0 1103.1,227.5 1104.1,229.8 1105.0,232.0 1105.8,234.2 1106.6,236.2 1107.4,238.1 1108.2,239.7 1109.1,241.0 1110.0,241.9 1111.0,242.6 1112.0,243.0 1113.0,243.2 1114.1,243.1 1115.3,242.8 1116.6,242.2 1118.0,241.3 1119.5,240.1 1121.1,238.8 1122.6,237.4 1124.1,236.0 1125.5,234.5 1127.0,232.7 1128.4,230.9 1129.8,229.2 1131.3,227.5 1132.8,226.1 1134.4,224.9 1136.0,223.7 1137.7,222.8 1139.4,221.9 1141.1,221.4 1142.8,221.1 1144.5,221.1 1146.2,221.5 1148.0,222.0 1149.7,222.8 1151.3,223.7 1152.8,224.8 1154.2,226.1 1155.6,227.6 1156.9,229.3 1158.1,231.0 1159.2,232.9 1160.3,234.8 1161.3,236.8 1162.2,239.1 1163.0,241.4 1163.7,243.7 1164.5,245.7 1165.3,247.3 1166.1,248.5 1166.9,249.5 1167.8,250.2 1168.6,250.6 1169.4,250.9 1170.2,251.0 1171.0,251.0 1171.9,250.8 1172.8,250.5 1173.6,249.8 1174.4,248.8 1175.2,247.3 1175.9,245.2 1176.5,242.5 1177.0,239.4 1177.6,236.2 1178.2,232.9 1178.8,229.7 1179.5,226.6 1180.2,223.4 1181.0,220.1 1181.7,216.9 1182.5,213.9 1183.2,211.0 1183.9,208.3 1184.6,205.8 1185.3,203.4 1186.0,201.2 1186.8,199.0 1187.6,197.0 1188.5,195.2 1189.4,193.6 1190.3,192.2 1191.3,190.8 1192.4,189.2 1193.6,187.3 1194.9,185.1 1196.3,182.8 1197.9,179.9 1199.4,177.2 1200.9,175.4 1202.3,172.6 1203.6,168.9 1204.9,167.1 1206.2,165.4 1207.4,161.8 1208.6,159.1 1209.8,157.5 1210.9,155.5 1212.1,153.6 1213.1,151.5 1214.2,149.9 1215.1,148.6 1216.0,147.4 1216.7,146.5 1217.3,145.8 1217.7,145.4 1218.3,145.1 1218.9,144.9 1219.8,144.9 1221.0,144.9 1222.4,145.1 1224.0,145.4 1225.6,145.8 1227.1,146.5 1228.5,147.4 1229.7,148.7 1230.7,150.4 1231.6,152.3 1232.6,154.3 1233.6,156.0 1234.8,157.4 1236.1,158.5 1237.6,159.5 1239.1,160.3 1240.6,160.9 1242.1,161.2 1243.5,161.1 1244.8,160.5 1246.1,159.4 1247.3,158.0 1248.5,156.4 1249.8,154.9 1251.0,153.7 1252.2,152.6 1253.4,150.5 1254.6,149.6 1255.8,149.0 1257.1,148.8 1258.5,149.2 1260.0,146.3 1261.5,145.4 1263.1,144.5 1264.7,146.4 1266.5,147.1 1268.4,144.5 1270.5,145.0 1272.7,147.9 1275.0,148.2 1277.4,146.4 1279.8,148.7 1282.2,151.8 1284.7,150.5 1287.2,150.5 1289.8,152.6 1292.3,151.0 1294.8,150.8 1297.2,154.4 1299.4,155.0 1301.6,152.8 1303.7,154.3 1305.7,157.9 1307.7,157.0 1309.6,155.5 1311.4,158.2 1313.2,159.3 1314.8,161.0 1316.4,159.6 1318.0,159.8 1319.6,161.9 1321.2,164.5 1322.8,166.7 1324.3,166.0 1325.8,167.7 1327.2,169.3 1328.4,172.6 1329.4,175.6 1330.3,177.1 1331.0,179.1 1331.7,181.4 1332.5,183.2 1333.4,184.4 1334.5,186.1 1335.7,187.4 1337.0,188.4 1338.3,189.1 1339.6,189.5 1340.8,189.3 1341.9,188.5 1342.9,187.2 1343.9,185.5 1344.9,183.5 1345.9,181.6 1347.1,179.8 1348.4,178.1 1349.8,176.3 1351.3,174.5 1352.8,172.8 1354.3,171.2 1355.8,169.8 1357.3,168.6 1358.8,167.7 1360.3,166.8 1361.8,166.1 1363.2,165.4 1364.6,164.8 1366.0,164.3 1367.4,163.8 1368.8,163.5 1370.1,163.2 1371.2,163.0 1372.0,162.8"/>
</g>
<g shape-rendering="crispEdges">
<rect x="132" y="21" width="1243" height="5" fill="#000"/>
<rect x="132" y="953" width="1243" height="6" fill="#000"/>
<rect x="1369" y="21" width="6" height="954" fill="#000"/>
<rect x="126" y="21" width="6" height="938" fill="#737373"/>
<rect x="1186" y="959" width="6" height="16" fill="#000"/>
<rect x="1003" y="959" width="6" height="16" fill="#000"/>
<rect x="820" y="959" width="6" height="16" fill="#000"/>
<rect x="638" y="959" width="6" height="16" fill="#000"/>
<rect x="455" y="959" width="6" height="16" fill="#000"/>
<rect x="272" y="959" width="6" height="16" fill="#000"/>
<rect x="1278" y="959" width="5" height="6" fill="#000"/>
<rect x="1095" y="959" width="5" height="6" fill="#000"/>
<rect x="912" y="959" width="5" height="6" fill="#000"/>
<rect x="730" y="959" width="5" height="6" fill="#000"/>
<rect x="547" y="959" width="5" height="6" fill="#000"/>
<rect x="364" y="959" width="5" height="6" fill="#000"/>
<rect x="181" y="959" width="5" height="6" fill="#000"/>
</g>
<text class="tk" transform="translate(1372.8,1028) scale(1.06,1)" font-size="52" text-anchor="middle">500</text>
<text class="tk" transform="translate(1190.0,1028) scale(1.06,1)" font-size="52" text-anchor="middle">1000</text>
<text class="tk" transform="translate(1007.2,1028) scale(1.06,1)" font-size="52" text-anchor="middle">1500</text>
<text class="tk" transform="translate(824.4,1028) scale(1.06,1)" font-size="52" text-anchor="middle">2000</text>
<text class="tk" transform="translate(641.6,1028) scale(1.06,1)" font-size="52" text-anchor="middle">2500</text>
<text class="tk" transform="translate(458.8,1028) scale(1.06,1)" font-size="52" text-anchor="middle">3000</text>
<text class="tk" transform="translate(276.0,1028) scale(1.06,1)" font-size="52" text-anchor="middle">3500</text>
<text id="xt" x="751.4" y="1108.4" font-size="61.5" text-anchor="middle">Wavenumber(cm<tspan font-size="41" dy="-25.3">-1</tspan><tspan dy="25.3">)</tspan></text>
<text id="yt" transform="translate(51.7,465.5) rotate(-90)" font-size="61.6" text-anchor="middle">Transmitance(%)</text>
<text id="l1" transform="translate(1270.4,131.8) scale(1.015,1.05)" font-size="48">GO</text>
<text id="l2" transform="translate(1249.7,334.6) scale(1,1)" font-size="48">PANI</text>
<text id="l3" transform="translate(1158.8,654.9) scale(1.015,1)" font-size="48">GO/PANI</text>
<text class="vl" id="v0" transform="translate(901.9,263.4) rotate(90)" font-size="49">1740</text>
<text class="vl" id="v1" transform="translate(966.3,260.2) rotate(90)" font-size="49">1620</text>
<text class="vl" id="v2" transform="translate(1092.9,267.2) rotate(90)" font-size="49">1210</text>
<text class="vl" id="v3" transform="translate(1157.8,271.8) rotate(90)" font-size="49">1050</text>
<text class="vl" id="v4" transform="translate(1248.5,448.8) rotate(90)" font-size="49">804</text>
<text class="vl" id="v5" transform="translate(929.4,544.6) rotate(90)" font-size="49">1580</text>
<text class="vl" id="v6" transform="translate(989.9,550.4) rotate(90)" font-size="49">1480</text>
<text class="vl" id="v7" transform="translate(1056.7,557.4) rotate(90)" font-size="49">1310</text>
<text class="vl" id="v8" transform="translate(1130.1,631.0) rotate(90)" font-size="49">1130</text>
<text class="vl" id="v9" transform="translate(283.5,793.0) rotate(90)" font-size="49">3430</text>
<text class="vl" id="v10" transform="translate(943.1,734.8) rotate(90)" font-size="49">1590</text>
<text class="vl" id="v11" transform="translate(1001.2,738.1) rotate(90)" font-size="49">1480</text>
<text class="vl" id="v12" transform="translate(1061.7,736.7) rotate(90)" font-size="49">1300</text>
<text class="vl" id="v13" transform="translate(1132.8,759.5) rotate(90)" font-size="49">1110</text>
</svg></body></html>
